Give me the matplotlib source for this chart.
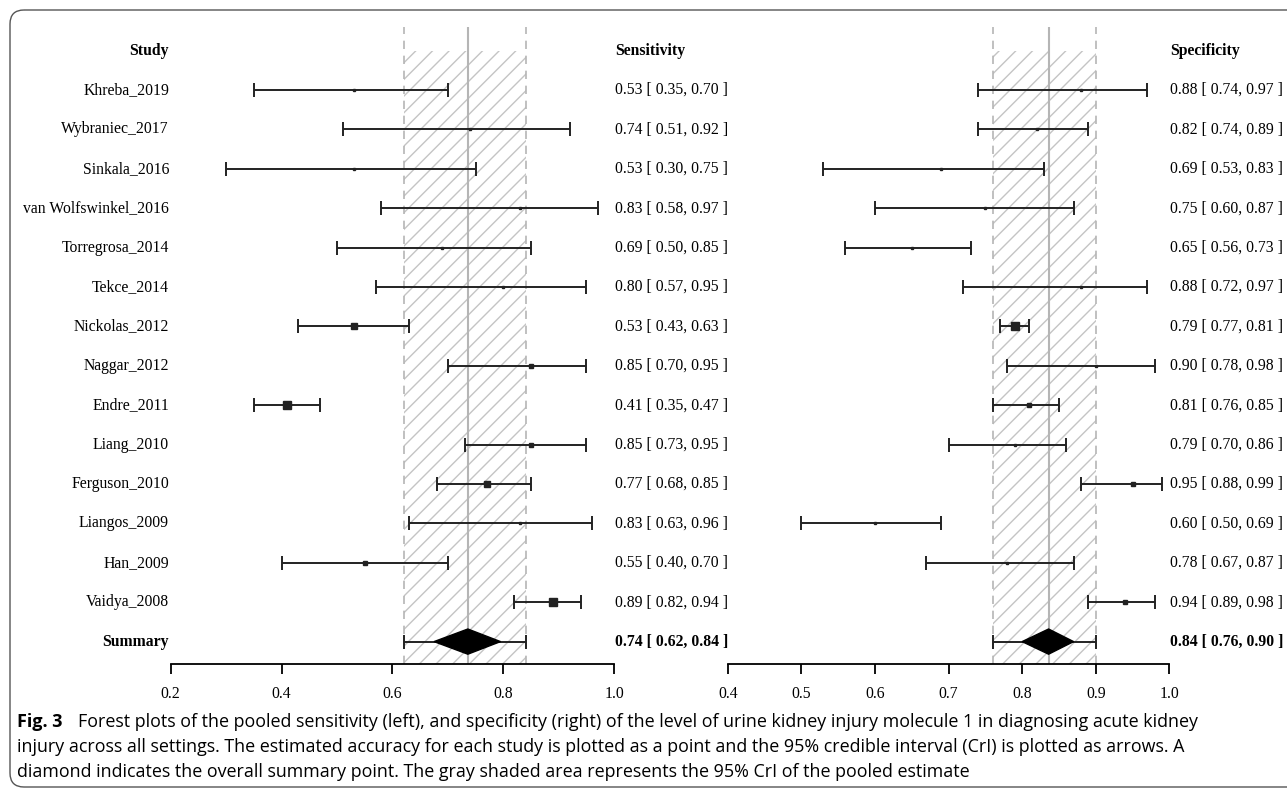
import matplotlib.pyplot as plt
from matplotlib.patches import FancyBboxPatch, Polygon
from matplotlib.transforms import blended_transform_factory

studies = ["Khreba_2019", "Wybraniec_2017", "Sinkala_2016", "van Wolfswinkel_2016",
           "Torregrosa_2014", "Tekce_2014", "Nickolas_2012", "Naggar_2012",
           "Endre_2011", "Liang_2010", "Ferguson_2010", "Liangos_2009",
           "Han_2009", "Vaidya_2008"]

sens = [0.53, 0.74, 0.53, 0.83, 0.69, 0.80, 0.53, 0.85, 0.41, 0.85, 0.77, 0.83, 0.55, 0.89]
sens_lo = [0.35, 0.51, 0.30, 0.58, 0.50, 0.57, 0.43, 0.70, 0.35, 0.73, 0.68, 0.63, 0.40, 0.82]
sens_hi = [0.70, 0.92, 0.75, 0.97, 0.85, 0.95, 0.63, 0.95, 0.47, 0.95, 0.85, 0.96, 0.70, 0.94]
sens_w = [1, 1, 1, 1, 1, 1, 5, 2, 8, 3, 5, 1, 2, 8]

spec = [0.88, 0.82, 0.69, 0.75, 0.65, 0.88, 0.79, 0.90, 0.81, 0.79, 0.95, 0.60, 0.78, 0.94]
spec_lo = [0.74, 0.74, 0.53, 0.60, 0.56, 0.72, 0.77, 0.78, 0.76, 0.70, 0.88, 0.50, 0.67, 0.89]
spec_hi = [0.97, 0.89, 0.83, 0.87, 0.73, 0.97, 0.81, 0.98, 0.85, 0.86, 0.99, 0.69, 0.87, 0.98]
spec_w = [1, 1, 1, 1, 1, 1, 8, 1, 3, 1, 2, 1, 1, 4]

# pooled estimate, 95% CrI and diamond extent
sens_pool = [0.736, 0.62, 0.84, 0.675, 0.795]
spec_pool = [0.836, 0.76, 0.90, 0.80, 0.87]

W, H = 1287, 790
serif = "Liberation Serif"
fs = 11.3
plt.rcParams["hatch.color"] = "#bdbdbd"
plt.rcParams["hatch.linewidth"] = 1.0

fig = plt.figure(figsize=(W / 100, H / 100), dpi=100)

# frame with rounded corners
bg = fig.add_axes([0, 0, 1, 1], zorder=-5)
bg.set_xlim(0, W)
bg.set_ylim(H, 0)
bg.axis("off")
bg.add_patch(FancyBboxPatch((10, 10), 1320, 777, boxstyle="round,pad=0,rounding_size=14",
                            fc="none", ec="#555555", lw=1.0))


def fx(px):
    return px / W


def fy(py):
    return 1 - py / H


row0, step = 90, 39.4
ytop, ybot = 27, 664


def panel(x0, x1, lim, ticks, est, lo, hi, wts, pool, title, text_x):
    ax = fig.add_axes([fx(x0), fy(ybot), fx(x1) - fx(x0), fy(ytop) - fy(ybot)])
    ax.set_xlim(*lim)
    ax.set_ylim((ybot - row0) / step, (ytop - row0) / step)
    for s in ["top", "left", "right"]:
        ax.spines[s].set_visible(False)
    ax.spines["bottom"].set_linewidth(1.3)
    ax.set_yticks([])
    ax.set_xticks(ticks)
    ax.set_xticklabels([f"{t:.1f}" for t in ticks], fontfamily=serif, fontsize=fs)
    ax.tick_params(axis="x", direction="out", length=7, width=1.3, pad=9)

    # pooled CrI band
    ax.fill_betweenx([-1, ax.get_ylim()[0]], pool[1], pool[2], facecolor="none",
                     hatch="//", edgecolor="#c4c4c4", lw=0)
    for v in (pool[1], pool[2]):
        ax.axvline(v, color="#b5b5b5", lw=1.2, ls=(0, (5, 4)))
    ax.axvline(pool[0], color="#b5b5b5", lw=1.5)

    n = len(est)
    for i in range(n):
        ax.errorbar(est[i], i, xerr=[[est[i] - lo[i]], [hi[i] - est[i]]], fmt="s",
                    color="#222222", ms=1.2 + 0.55 * wts[i], lw=1.4,
                    capsize=5, capthick=1.4, clip_on=False)
    ax.errorbar(pool[0], n, xerr=[[pool[0] - pool[1]], [pool[2] - pool[0]]], fmt="none",
                color="#222222", lw=1.4, capsize=5, capthick=1.4, clip_on=False)
    ax.add_patch(Polygon([(pool[3], n), (pool[0], n - 0.32), (pool[4], n), (pool[0], n + 0.32)],
                         closed=True, fc="black", ec="black", zorder=5))

    tr = blended_transform_factory(fig.transFigure, ax.transData)
    ax.text(fx(text_x), -1, title, transform=tr, fontfamily=serif, fontsize=fs,
            fontweight="bold", va="center", ha="left")
    for i in range(n):
        ax.text(fx(text_x), i, f"{est[i]:.2f} [ {lo[i]:.2f}, {hi[i]:.2f} ]", transform=tr,
                fontfamily=serif, fontsize=fs, va="center", ha="left")
    ax.text(fx(text_x), n, f"{pool[0]:.2f} [ {pool[1]:.2f}, {pool[2]:.2f} ]", transform=tr,
            fontfamily=serif, fontsize=fs, fontweight="bold", va="center", ha="left")
    return ax


axL = panel(170.7, 614.2, (0.2, 1.0), [0.2, 0.4, 0.6, 0.8, 1.0],
            sens, sens_lo, sens_hi, sens_w, sens_pool, "Sensitivity", 615)
axR = panel(727.7, 1169.3, (0.4, 1.0), [0.4, 0.5, 0.6, 0.7, 0.8, 0.9, 1.0],
            spec, spec_lo, spec_hi, spec_w, spec_pool, "Specificity", 1170)

trL = blended_transform_factory(fig.transFigure, axL.transData)
axL.text(fx(169), -1, "Study", transform=trL, fontfamily=serif, fontsize=fs,
         fontweight="bold", va="center", ha="right")
for i, s in enumerate(studies):
    axL.text(fx(169), i, s, transform=trL, fontfamily=serif, fontsize=fs,
             va="center", ha="right")
axL.text(fx(169), len(studies), "Summary", transform=trL, fontfamily=serif, fontsize=fs,
         fontweight="bold", va="center", ha="right")

# caption
cap = ["Forest plots of the pooled sensitivity (left), and specificity (right) of the level of urine kidney injury molecule 1 in diagnosing acute kidney",
       "injury across all settings. The estimated accuracy for each study is plotted as a point and the 95% credible interval (CrI) is plotted as arrows. A",
       "diamond indicates the overall summary point. The gray shaded area represents the 95% CrI of the pooled estimate"]
cfont = "Open Sans"
fig.text(fx(17), fy(722), "Fig. 3", fontfamily=cfont, fontweight="bold", fontsize=13,
         va="center", ha="left")
t1 = fig.text(fx(78), fy(722), cap[0], fontfamily=cfont, fontsize=11, va="center", ha="left")
t2 = fig.text(fx(17), fy(747), cap[1], fontfamily=cfont, fontsize=11, va="center", ha="left")
t3 = fig.text(fx(17), fy(772), cap[2], fontfamily=cfont, fontsize=11, va="center", ha="left")

# fit the caption width to the frame (line ends)
fig.canvas.draw()
targets = [1236 - 78, 1162 - 17, 965 - 17]
ratios = [tw / t.get_window_extent().width for tw, t in zip(targets, (t1, t2, t3))]
size = 11 * sum(ratios) / len(ratios)
for t in (t1, t2, t3):
    t.set_fontsize(size)

fig.savefig("out.png", dpi=100)
